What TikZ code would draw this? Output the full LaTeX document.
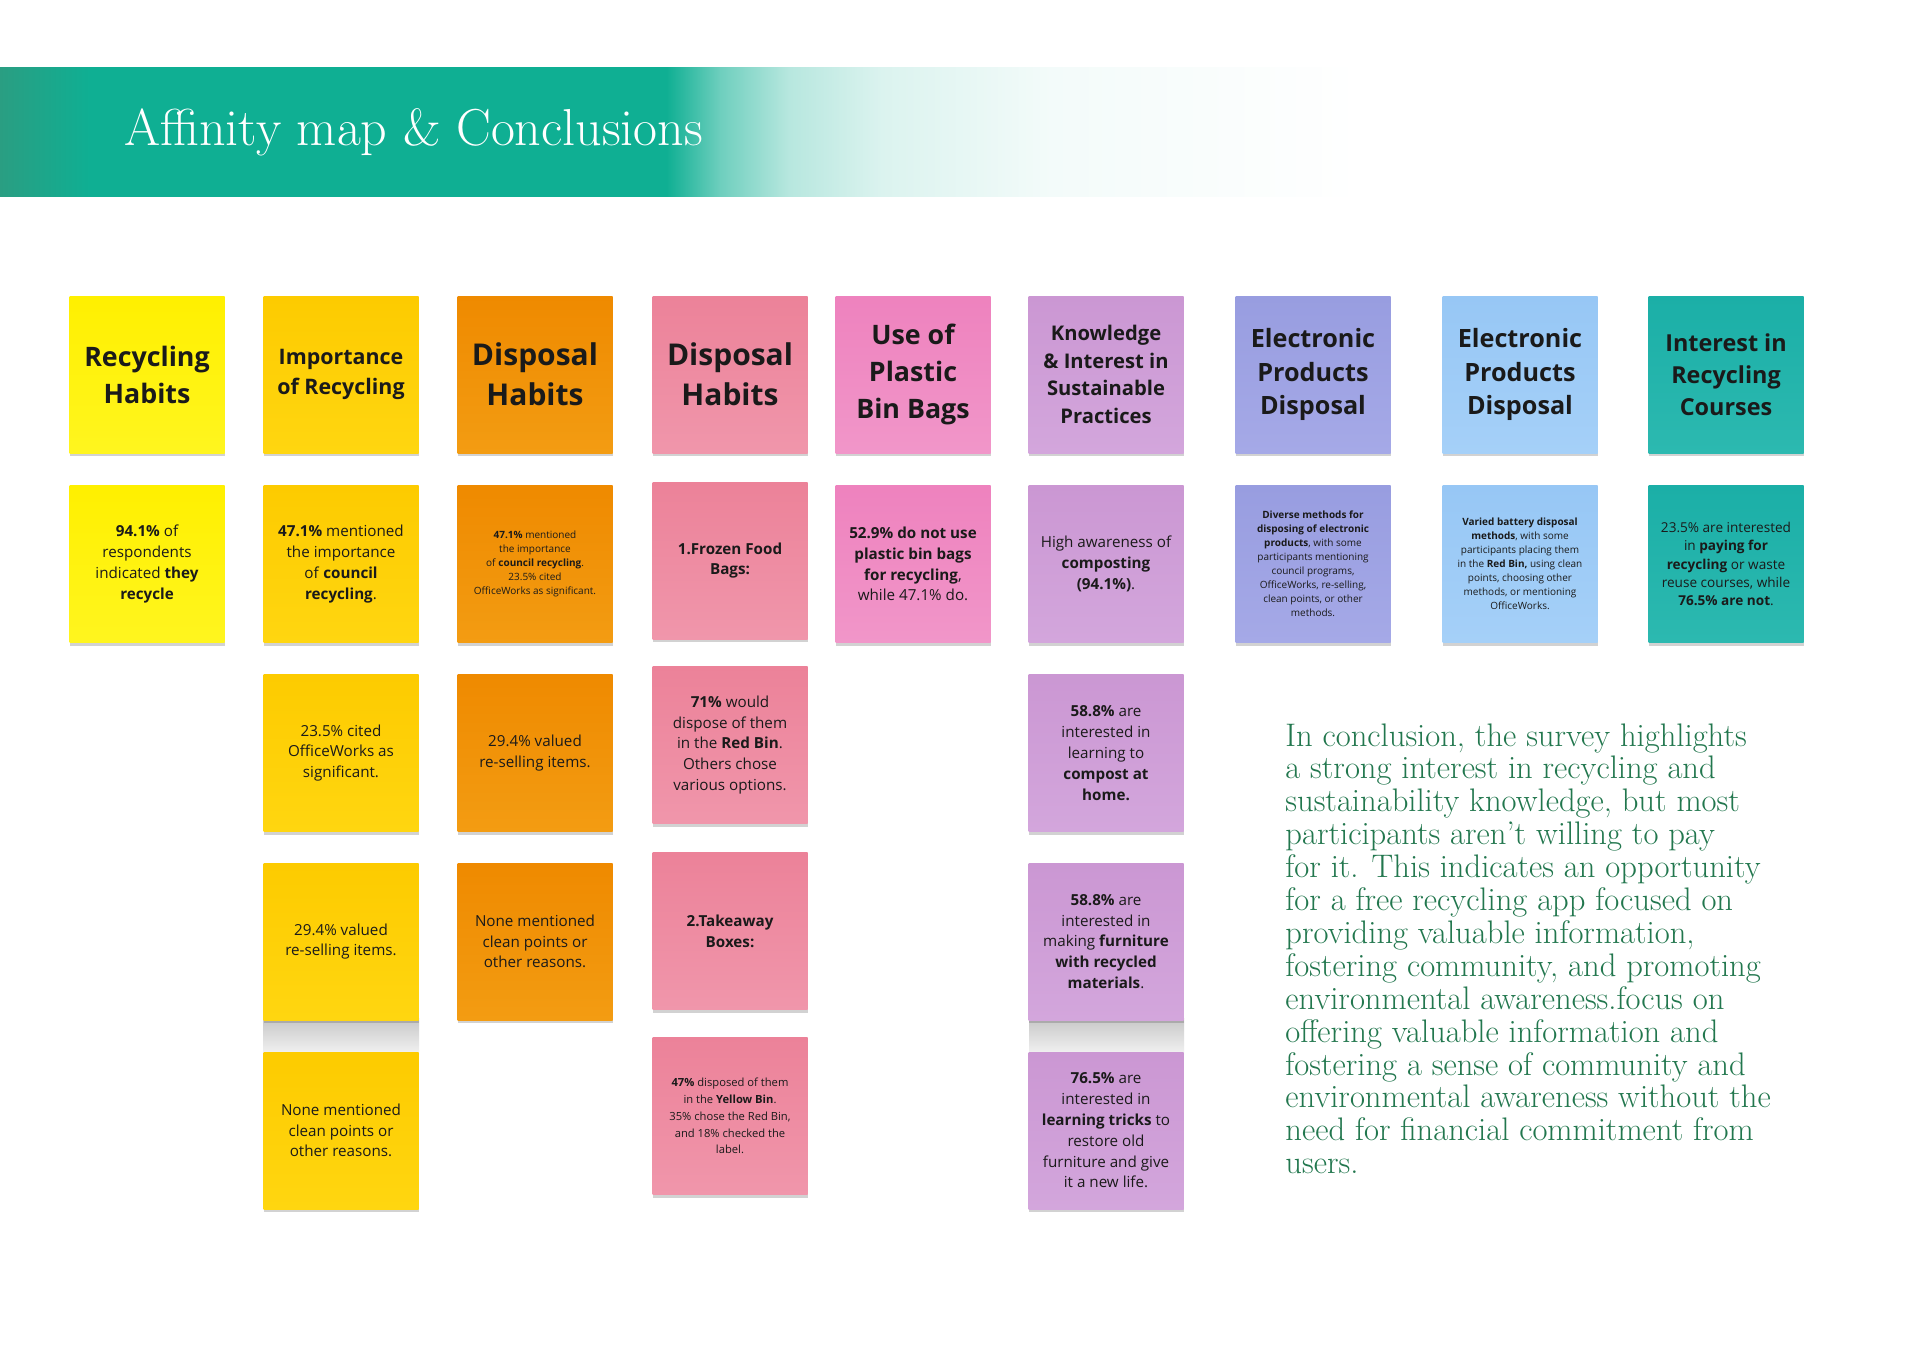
\documentclass[tikz,border=0pt]{standalone}
\usepackage{fontspec}
\newfontfamily\notefont{Open Sans}
\usetikzlibrary{shadows}
\definecolor{band}{HTML}{0FAF93}
\definecolor{bandd}{HTML}{2A9E82}
\definecolor{concl}{HTML}{22774E}
\definecolor{ink}{HTML}{1A1A1A}
\definecolor{aT}{HTML}{FFF000}\definecolor{aB}{HTML}{FFF51F}
\definecolor{bT}{HTML}{FDCB00}\definecolor{bB}{HTML}{FFD610}
\definecolor{cT}{HTML}{EF8A00}\definecolor{cB}{HTML}{F39C12}
\definecolor{dT}{HTML}{EC8299}\definecolor{dB}{HTML}{F096AB}
\definecolor{eT}{HTML}{EE82BE}\definecolor{eB}{HTML}{F196C9}
\definecolor{fT}{HTML}{CB97D3}\definecolor{fB}{HTML}{D3A6DC}
\definecolor{gT}{HTML}{989DE0}\definecolor{gB}{HTML}{A5A9E7}
\definecolor{hT}{HTML}{97C7F5}\definecolor{hB}{HTML}{A5D0F8}
\definecolor{iT}{HTML}{1BAFA7}\definecolor{iB}{HTML}{2CB9B0}
\colorlet{bandA}{band!60!white}
\colorlet{bandB}{band!30!white}
\colorlet{bandC}{band!15!white}
\colorlet{bandE}{band!5!white}
\pgfdeclarehorizontalshading{bandshade}{100bp}{color(0bp)=(bandd); color(25bp)=(bandd); color(28.3bp)=(band); color(49.5bp)=(band); color(51.5bp)=(bandA); color(54bp)=(bandB); color(57.4bp)=(bandC); color(63.6bp)=(bandE); color(75bp)=(white); color(100bp)=(white)}
\begin{document}
\begin{tikzpicture}[x=0.5pt,y=-0.5pt,
  note/.style={rectangle, minimum width=77.5pt, minimum height=78.5pt, inner sep=0pt,
    align=center, text=ink,
    drop shadow={shadow xshift=0pt, shadow yshift=-1.6pt, opacity=0.25, fill=black!70}},
  ca/.style={note, top color=aT, bottom color=aB},
  cb/.style={note, top color=bT, bottom color=bB},
  cc/.style={note, top color=cT, bottom color=cB},
  cd/.style={note, top color=dT, bottom color=dB},
  ce/.style={note, top color=eT, bottom color=eB},
  cf/.style={note, top color=fT, bottom color=fB},
  cg/.style={note, top color=gT, bottom color=gB},
  ch/.style={note, top color=hT, bottom color=hB},
  ci/.style={note, top color=iT, bottom color=iB},
  hxl/.style={font=\notefont\bfseries\fontsize{15}{20}\selectfont},
  hl/.style={font=\notefont\bfseries\fontsize{13.4}{18.5}\selectfont},
  hm/.style={font=\notefont\bfseries\fontsize{12.6}{16.6}\selectfont},
  hmi/.style={font=\notefont\bfseries\fontsize{11.7}{16}\selectfont},
  hs/.style={font=\notefont\bfseries\fontsize{10.7}{14.8}\selectfont},
  hxs/.style={font=\notefont\bfseries\fontsize{10.1}{13.8}\selectfont},
  body/.style={font=\notefont\fontsize{7.6}{10.4}\selectfont},
  bodyl/.style={font=\notefont\fontsize{7.6}{10.4}\selectfont},
  bodys/.style={font=\notefont\fontsize{6.8}{9.2}\selectfont},
  tiny/.style={font=\notefont\fontsize{5}{7}\selectfont},
  tinyl/.style={font=\notefont\fontsize{5.6}{8.4}\selectfont},
  gap/.style={top color=black!22, bottom color=black!5, draw=none}
]
\useasboundingbox (0,0) rectangle (1920,1357);
\fill[white] (0,0) rectangle (1920,1357);
% header band
\shade[shading=bandshade] (0,67) rectangle (1360,196);
\node[anchor=base west, inner sep=0pt, text=white, font=\fontsize{26}{30}\selectfont] (title) at (124,145) {Affinity map \& Conclusions};

% grey gaps between stacked notes
\fill[gap] (263,1018) rectangle (419,1054);
\fill[gap] (1029,1018) rectangle (1184,1054);

% column 1
\node[ca, hl] (h1) at (147,374.5) {Recycling\\Habits};
\node[ca, body] (n1a) at (147,564) {\textbf{94.1\%} of\\respondents\\indicated \textbf{they}\\\textbf{recycle}};
% column 2
\node[cb, hs] (h2) at (341,374.5) {Importance\\of Recycling};
\node[cb, body] (n2a) at (341,564) {\textbf{47.1\%} mentioned\\the importance\\of \textbf{council}\\\textbf{recycling}.};
\node[cb, body] (n2b) at (341,753) {23.5\% cited\\OfficeWorks as\\significant.};
\node[cb, body] (n2c) at (341,941.5) {29.4\% valued\\re-selling items.};
\node[cb, body] (n2d) at (341,1130.5) {None mentioned\\clean points or\\other reasons.};
% column 3
\node[cc, hxl] (h3) at (535,374.5) {Disposal\\Habits};
\node[cc, tiny] (n3a) at (535,564) {\textbf{47.1\%} mentioned\\the importance\\of \textbf{council recycling}.\\23.5\% cited\\OfficeWorks as significant.};
\node[cc, body] (n3b) at (535,753) {29.4\% valued\\re-selling items.};
\node[cc, body] (n3c) at (535,941.5) {None mentioned\\clean points or\\other reasons.};
% column 4
\node[cd, hxl] (h4) at (730,374.5) {Disposal\\Habits};
\node[cd, body] (n4a) at (730,560.5) {\textbf{1.Frozen Food}\\\textbf{Bags:}};
\node[cd, body] (n4b) at (730,745) {\textbf{71\%} would\\dispose of them\\in the \textbf{Red Bin}.\\Others chose\\various options.};
\node[cd, body] (n4c) at (730,931) {\textbf{2.Takeaway}\\\textbf{Boxes:}};
\node[cd, tinyl] (n4d) at (730,1116) {\textbf{47\%} disposed of them\\in the \textbf{Yellow Bin}.\\35\% chose the Red Bin,\\and 18\% checked the\\label.};
% column 5
\node[ce, hl] (h5) at (913,374.5) {Use of\\Plastic\\Bin Bags};
\node[ce, body] (n5a) at (913,564) {\textbf{52.9\% do not use}\\\textbf{plastic bin bags}\\\textbf{for recycling},\\while 47.1\% do.};
% column 6
\node[cf, hxs] (h6) at (1106,374.5) {Knowledge\\\& Interest in\\Sustainable\\Practices};
\node[cf, bodyl] (n6a) at (1106,564) {High awareness of\\\textbf{composting}\\\textbf{(94.1\%)}.};
\node[cf, body] (n6b) at (1106,753) {\textbf{58.8\%} are\\interested in\\learning to\\\textbf{compost at}\\\textbf{home.}};
\node[cf, body] (n6c) at (1106,941.5) {\textbf{58.8\%} are\\interested in\\making \textbf{furniture}\\\textbf{with recycled}\\\textbf{materials}.};
\node[cf, body] (n6d) at (1106,1130.5) {\textbf{76.5\%} are\\interested in\\\textbf{learning tricks} to\\restore old\\furniture and give\\it a new life.};
% column 7
\node[cg, hm] (h7) at (1313,374.5) {Electronic\\Products\\Disposal};
\node[cg, tiny] (n7a) at (1313,564) {\textbf{Diverse methods for}\\\textbf{disposing of electronic}\\\textbf{products}, with some\\participants mentioning\\council programs,\\OfficeWorks, re-selling,\\clean points, or other\\methods.};
% column 8
\node[ch, hm] (h8) at (1520,374.5) {Electronic\\Products\\Disposal};
\node[ch, tiny] (n8a) at (1520,564) {\textbf{Varied battery disposal}\\\textbf{methods}, with some\\participants placing them\\in the \textbf{Red Bin,} using clean\\points, choosing other\\methods, or mentioning\\OfficeWorks.};
% column 9
\node[ci, hmi] (h9) at (1726,374.5) {Interest in\\Recycling\\Courses};
\node[ci, bodys] (n9a) at (1726,564) {23.5\% are interested\\in \textbf{paying for}\\\textbf{recycling} or waste\\reuse courses, while\\\textbf{76.5\% are not}.};

% conclusion
\node[anchor=north west, inner sep=0pt, align=left, text=concl, font=\fontsize{16.3}{16.45}\selectfont] (concl) at (1285,723) {In conclusion, the survey highlights\\a strong interest in recycling and\\sustainability knowledge, but most\\participants aren’t willing to pay\\for it. This indicates an opportunity\\for a free recycling app focused on\\providing valuable information,\\fostering community, and promoting\\environmental awareness.focus on\\offering valuable information and\\fostering a sense of community and\\environmental awareness without the\\need for financial commitment from\\users.};
\end{tikzpicture}
\end{document}
